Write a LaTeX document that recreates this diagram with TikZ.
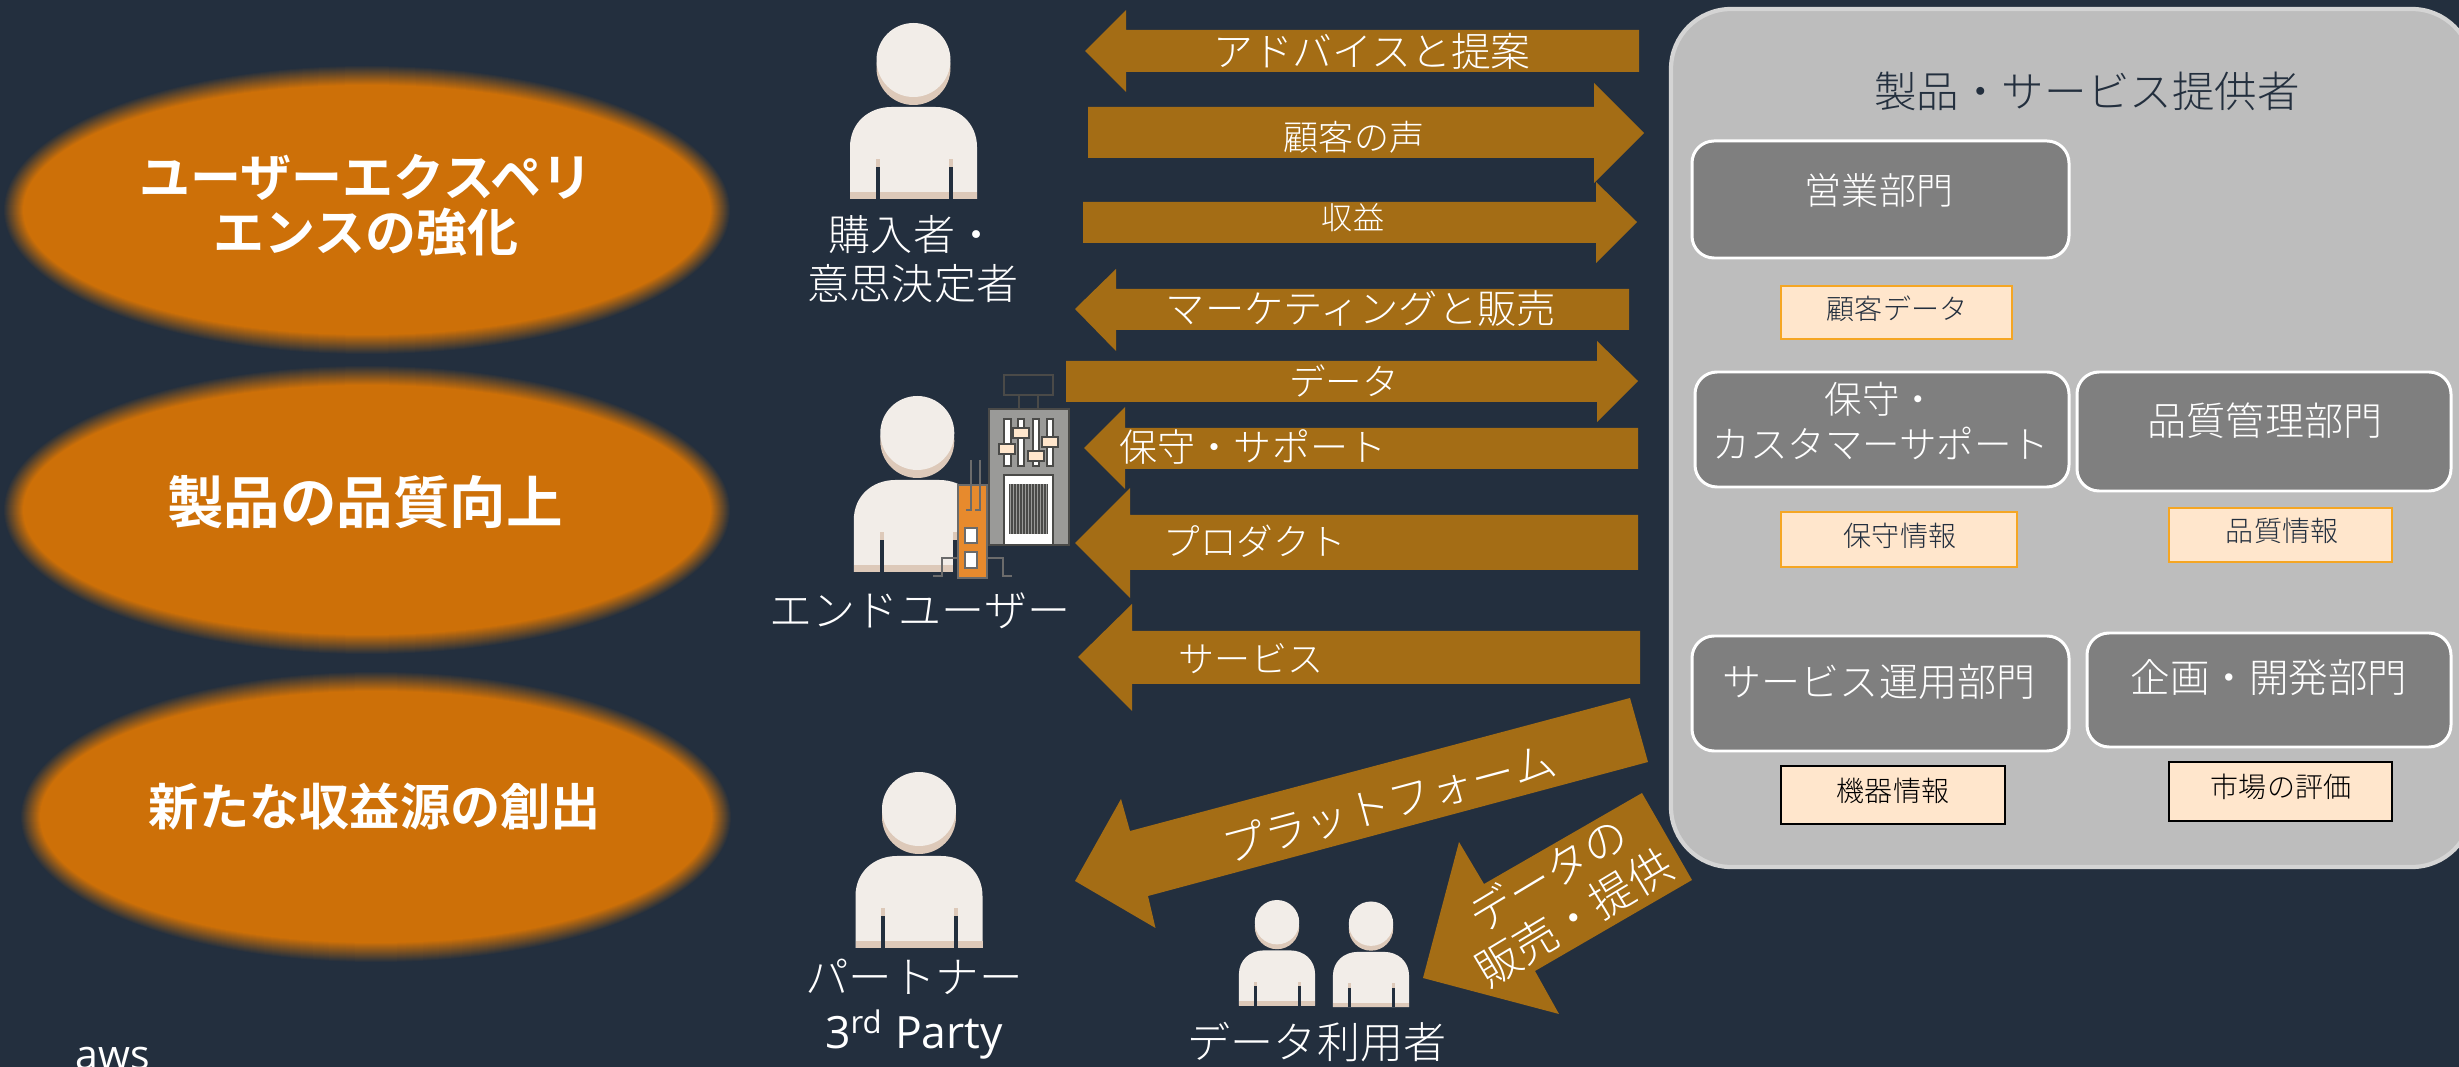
\documentclass[tikz,border=0pt]{standalone}
\usepackage{fontspec}
\setmainfont{Noto Sans CJK JP}[UprightFont=* Light,BoldFont=* Bold]
\newfontfamily\latinf{Open Sans}
\newcommand{\fpx}[2]{\pgfmathsetmacro\fpxa{#1*0.2845}\pgfmathsetmacro\fpxb{#2*0.2845}\fontsize{\fpxa pt}{\fpxb pt}\selectfont}
\definecolor{bgC}{HTML}{232F3E}
\definecolor{ovalC}{HTML}{CD7008}
\definecolor{arrC}{HTML}{A46D15}
\definecolor{panC}{HTML}{BDBDBD}
\definecolor{panL}{HTML}{D4D4D4}
\definecolor{depC}{HTML}{7F7F7F}
\definecolor{infC}{HTML}{FFE6CC}
\definecolor{infL}{HTML}{F5A623}
\definecolor{skinA}{HTML}{F2EDE8}
\definecolor{skinB}{HTML}{DDC9B9}
\definecolor{devL}{HTML}{4A4A48}
\definecolor{devG}{HTML}{9A9A98}
\definecolor{devO}{HTML}{E78A2D}
\definecolor{devP}{HTML}{6B6B6B}
\tikzset{
  flowarrow/.style={fill=arrC,draw=none},
  panelbox/.style={fill=panC,draw=panL,line width=1.2pt,rounded corners=0.6cm},
  deptbox/.style={fill=depC,draw=white,line width=0.85pt,rounded corners=0.22cm},
  infobox/.style={fill=infC,draw=infL,line width=0.6pt},
  infoboxk/.style={fill=infC,draw=black,line width=0.6pt},
  whitetext/.style={text=white,inner sep=0pt,align=center},
  darktext/.style={text=bgC,inner sep=0pt,align=center},
  blacktext/.style={text=black,inner sep=0pt,align=center},
  devline/.style={draw=devL,line width=0.6pt},
  knob/.style={fill=infC,draw=devL,line width=0.6pt},
  track/.style={fill=white,draw=devL,line width=0.6pt},
}
\newcommand{\personfig}[3]{%
  \begin{scope}[shift={(#1,#2)},scale=#3]
    \fill[skinB] (0,45) circle[radius=37];
    \fill[skinA] (0,37) circle[radius=37];
    \fill[skinA] (-63.5,176) -- (-63.5,124) .. controls (-63.5,100) and (-45,84) .. (-22,84)
      -- (22,84) .. controls (45,84) and (63.5,100) .. (63.5,124) -- (63.5,176) -- cycle;
    \fill[skinB] (-63.5,169) rectangle (63.5,176);
    \fill[skinB] (-37.6,136) rectangle (-33.6,144);
    \fill[skinB] (35.4,136) rectangle (39.4,144);
    \fill[bgC] (-37.6,144) rectangle (-33.6,176);
    \fill[bgC] (35.4,144) rectangle (39.4,176);
  \end{scope}}
\newcommand{\blurellipse}[4]{%
  \foreach \i in {0,...,20}{
    \pgfmathsetmacro\pc{100*\i/20}
    \pgfmathsetmacro\rxx{#3+10-\i}
    \pgfmathsetmacro\ryy{#4+10-\i}
    \fill[ovalC!\pc!bgC] (#1,#2) ellipse[x radius=\rxx,y radius=\ryy];
  }}
\begin{document}
\begin{tikzpicture}[x=0.01cm,y=-0.01cm]
\useasboundingbox (0,0) rectangle (2459,1067);
\clip (0,0) rectangle (2459,1067);
\fill[bgC] (0,0) rectangle (2459,1067);

% ovals
\blurellipse{367}{210}{354}{135}
\blurellipse{367}{510}{354}{135}
\blurellipse{376}{817}{346}{136}
\node[whitetext,font=\fpx{51}{55}\bfseries] (ovalA) at (366,205) {ユーザーエクスペリ\\エンスの強化};
\node[whitetext,font=\fpx{56.5}{60}\bfseries] (ovalB) at (365,502) {製品の品質向上};
\node[whitetext,font=\fpx{50.2}{55}\bfseries] (ovalC) at (375,806) {新たな収益源の創出};

% provider panel
\path[panelbox] (1671,9) rectangle (2472,867);
\node[darktext,font=\fpx{42.5}{48}] (provider) at (2087,91) {製品・サービス提供者};

\path[deptbox] (1692,141) rectangle (2069,258);
\node[whitetext,font=\fpx{37}{42}] (sales) at (1879,190) {営業部門};
\path[infobox] (1781,286) rectangle (2012,339);
\node[darktext,font=\fpx{28}{32}] (custdata) at (1897,309) {顧客データ};

\path[deptbox] (1695,372) rectangle (2069,487);
\node[whitetext,font=\fpx{37.5}{45}] (support) at (1881,421) {保守・\\カスタマーサポート};
\path[deptbox] (2077,372) rectangle (2451,491);
\node[whitetext,font=\fpx{39}{44}] (quality) at (2265,421) {品質管理部門};
\path[infobox] (1781,512) rectangle (2017,567);
\node[darktext,font=\fpx{28}{32}] (maint) at (1900,536) {保守情報};
\path[infobox] (2169,508) rectangle (2392,562);
\node[darktext,font=\fpx{28}{32}] (qualinfo) at (2282,531) {品質情報};

\path[deptbox] (1692,636) rectangle (2069,751);
\node[whitetext,font=\fpx{39}{42}] (ops) at (1879,682) {サービス運用部門};
\path[deptbox] (2087,633) rectangle (2451,747);
\node[whitetext,font=\fpx{39.5}{42}] (plan) at (2269,678) {企画・開発部門};
\path[infoboxk] (1781,766) rectangle (2005,824);
\node[blacktext,font=\fpx{28}{32}] (equip) at (1893,791) {機器情報};
\path[infoboxk] (2169,762) rectangle (2392,821);
\node[blacktext,font=\fpx{28}{32}] (market) at (2281,787) {市場の評価};

% arrows
\fill[flowarrow] (1085,51) -- (1126,10) -- (1126,30) -- (1639,30) -- (1639,72) -- (1126,72) -- (1126,92) -- cycle;
\fill[flowarrow] (1644,133) -- (1594,83) -- (1594,107) -- (1088,107) -- (1088,158) -- (1594,158) -- (1594,183) -- cycle;
\fill[flowarrow] (1637,222) -- (1596,182) -- (1596,202) -- (1083,202) -- (1083,243) -- (1596,243) -- (1596,263) -- cycle;
\fill[flowarrow] (1075,309) -- (1116,269) -- (1116,289) -- (1629,289) -- (1629,330) -- (1116,330) -- (1116,351) -- cycle;
\fill[flowarrow] (1638,381) -- (1597,341) -- (1597,361) -- (1066,361) -- (1066,402) -- (1597,402) -- (1597,422) -- cycle;
\fill[flowarrow] (1084,448) -- (1125,407) -- (1125,428) -- (1638,428) -- (1638,469) -- (1125,469) -- (1125,489) -- cycle;
\fill[flowarrow] (1075,543) -- (1130,488) -- (1130,515) -- (1638,515) -- (1638,570) -- (1130,570) -- (1130,598) -- cycle;
\fill[flowarrow] (1078,657) -- (1132,604) -- (1132,631) -- (1640,631) -- (1640,684) -- (1132,684) -- (1132,711) -- cycle;
\fill[flowarrow] (1075,881) -- (1121,799) -- (1130,831) -- (1630,698) -- (1648,762) -- (1148,896) -- (1155.5,928) -- cycle;
\fill[flowarrow] (1423,978) -- (1459,842) -- (1484,884) -- (1642,793) -- (1692,880) -- (1535,971) -- (1559,1014) -- cycle;

\node[whitetext,font=\fpx{39.8}{42}] (advice) at (1372,51) {アドバイスと提案};
\node[whitetext,font=\fpx{35}{40}] (voice) at (1354,137) {顧客の声};
\node[whitetext,font=\fpx{31}{36}] (revenue) at (1353,218) {収益};
\node[whitetext,font=\fpx{39.3}{42}] (marketing) at (1361,309) {マーケティングと販売};
\node[whitetext,font=\fpx{36.5}{40}] (datalbl) at (1344,381) {データ};
\node[whitetext,font=\fpx{38}{42}] (maintlbl) at (1253,447) {保守・サポート};
\node[whitetext,font=\fpx{36.6}{40}] (product) at (1255,541) {プロダクト};
\node[whitetext,font=\fpx{36}{40}] (service) at (1251,659) {サービス};
\node[whitetext,rotate=15,font=\fpx{43}{48}] (platform) at (1389,803) {プラットフォーム};
\node[whitetext,rotate=31,font=\fpx{44}{50}] (datasale) at (1561,896) {データの\\販売・提供};

% people
\personfig{913.5}{23}{1}
\node[whitetext,font=\fpx{42}{49}] (buyer) at (913,259) {購入者・\\意思決定者};
\personfig{917.3}{396}{1}
\node[whitetext,font=\fpx{43}{48}] (enduser) at (920,611) {エンドユーザー};
\personfig{919}{772}{1}
\node[whitetext,font=\fpx{43.5}{55}] (partner) at (914,1009) {パートナー\\{\latinf\fpx{44.5}{55}3\textsuperscript{rd} Party}};
\personfig{1277}{900}{0.6}
\personfig{1371}{901.5}{0.6}
\node[whitetext,font=\fpx{43}{48}] (datauser) at (1317,1042) {データ利用者};

% device icon
\path[devline] (1004,375) rectangle (1053,395);
\path[devline] (1018.7,395) -- (1018.7,409) (1038,395) -- (1038,409);
\path[fill=devG,devline] (989,409) rectangle (1069,545);
\foreach \sx/\sy in {1007.3/449,1021/433,1036/456,1050/442}{
  \path[track] (\sx-3.3,419) rectangle (\sx+3.3,466);
  \path[knob] (\sx-8,\sy-5) rectangle (\sx+8,\sy+5);
}
\path[fill=white,devline] (1004,475) rectangle (1053,545);
\fill[devL] (1009,484) rectangle (1048,534);
\foreach \k in {0,...,12}{
  \draw[devG,line width=0.25pt] (1010+3*\k,484) -- (1010+3*\k,534);
}
\path[devline,draw=devP] (971,460) -- (971,485) (980,460) -- (980,485);
\path[fill=devO,draw=devP,line width=0.6pt] (958,485) rectangle (987,578);
\path[devline,draw=devP] (971,485) -- (971,510) -- (966,510) (980,485) -- (980,510) -- (975,510);
\path[fill=white,draw=devP,line width=0.7pt] (965,528) rectangle (977,543);
\path[fill=white,draw=devP,line width=0.7pt] (965,552) rectangle (977,568);
\path[devline,draw=devP] (958,558) -- (942,558) -- (942,576) -- (933,576);
\path[devline,draw=devP] (987,558) -- (1003,558) -- (1003,576) -- (1012,576);

% stray label
\node[text=white,inner sep=0pt,anchor=base west,font=\fpx{41}{45}\latinf] (aws) at (75,1070) {aws};
\end{tikzpicture}
\end{document}
